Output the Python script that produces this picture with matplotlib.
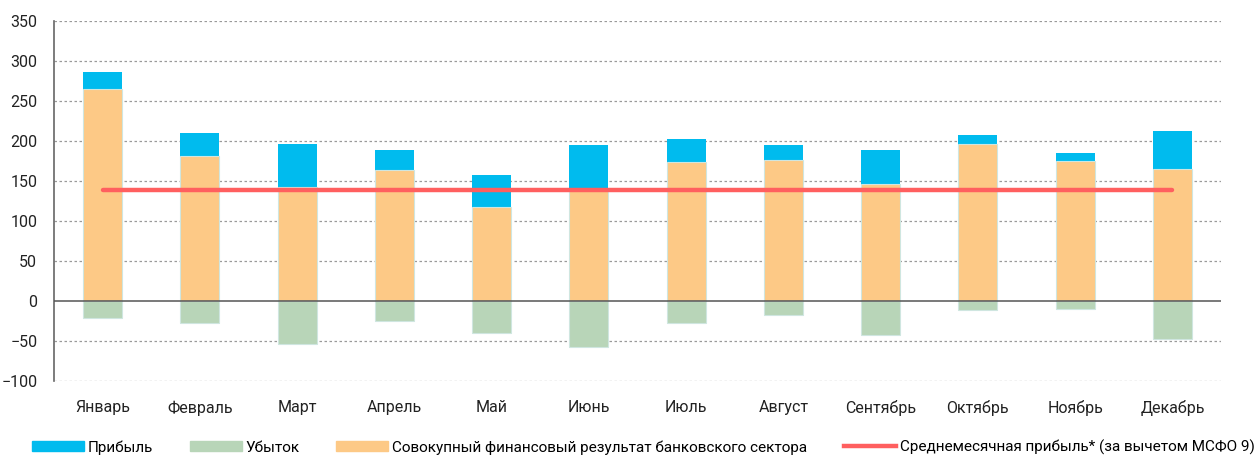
import matplotlib
matplotlib.use("Agg")
import matplotlib.pyplot as plt
import numpy as np
from matplotlib.patches import Patch
from matplotlib.lines import Line2D

plt.rcParams['font.family'] = ['Roboto', 'DejaVu Sans']

# Data (млрд руб.)
months = ['Январь', 'Февраль', 'Март', 'Апрель', 'Май', 'Июнь',
          'Июль', 'Август', 'Сентябрь', 'Октябрь', 'Ноябрь', 'Декабрь']
profit = [286, 209, 196, 188, 157, 195, 202, 194, 188, 207, 185, 212]
loss = [-21, -28, -54, -25, -40, -57, -28, -18, -42, -11, -10, -47]
net_result = [265, 181, 142, 163, 117, 138, 174, 176, 146, 196, 175, 165]
avg_profit = 138

x = np.arange(len(months))
w = 0.4

fig = plt.figure(figsize=(12.58, 4.57), dpi=100)
ax = fig.add_axes([0.0429, 0.1663, 0.9277, 0.7888])

# grid
for v in range(-100, 351, 50):
    if v == 0:
        continue
    ax.axhline(v, color='#9a9a9a', lw=0.9, ls=(0, (2, 2)), zorder=0)
ax.axhline(0, color='#555555', lw=1.1, zorder=3)

ax.bar(x, profit, w, color='#00BBEE', zorder=1)
ax.bar(x, net_result, w, color='#FDC986', edgecolor='#cfe6e0', lw=0.8, zorder=2)
ax.bar(x, loss, w, color='#B8D5B8', edgecolor='#cfe6e0', lw=0.8, zorder=2)
ax.plot([x[0], x[-1]], [avg_profit, avg_profit], color='#FF5F5F', lw=3.2,
        solid_capstyle='round', zorder=4)

ax.set_xlim(-0.5, 11.5)
ax.set_ylim(-100, 350)
ax.set_yticks(range(-100, 351, 50))
ax.set_xticks(x)
ax.set_xticklabels(months)
ax.tick_params(axis='both', length=0, labelsize=11.5, colors='#222222')
ax.tick_params(axis='y', pad=12)
ax.tick_params(axis='x', pad=14)
for s in ['top', 'right', 'bottom']:
    ax.spines[s].set_visible(False)
ax.spines['left'].set_color('#666666')
ax.spines['left'].set_linewidth(1.2)

handles = [Patch(color='#00BBEE'), Patch(color='#B8D5B8'), Patch(color='#FDC986'),
           Line2D([], [], color='#FF5F5F', lw=3.2)]
labels = ['Прибыль', 'Убыток', 'Совокупный финансовый результат банковского сектора',
          'Среднемесячная прибыль* (за вычетом МСФО 9)']
fig.legend(handles, labels, loc='center left', bbox_to_anchor=(0.0254, 0.021), ncol=4,
           frameon=False, fontsize=11, handlelength=3.4, handleheight=0.65,
           handletextpad=0.26, columnspacing=2.4, borderaxespad=0, borderpad=0)

fig.savefig('out.png', dpi=100)
